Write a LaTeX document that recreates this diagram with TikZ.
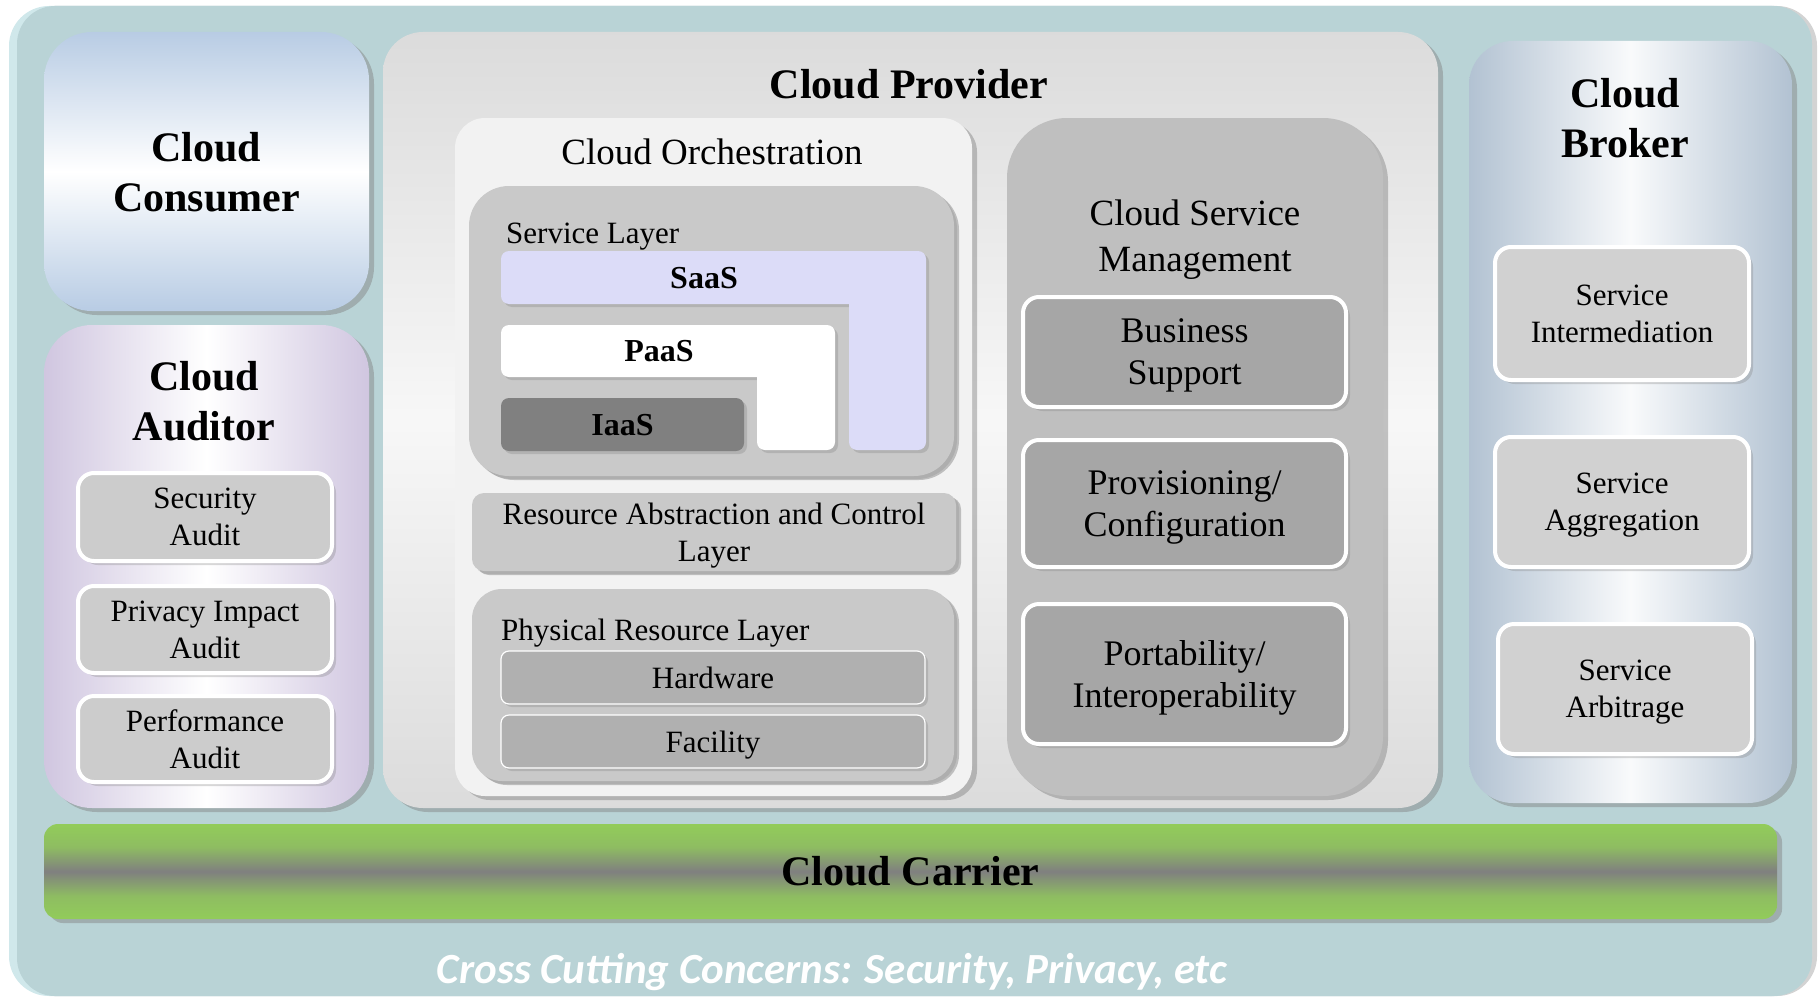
\documentclass[tikz,border=0pt]{standalone}
\usepackage{fontspec}
\setmainfont{Liberation Serif}
\newfontfamily\crossfont{Carlito}
\usepackage{xcolor}
\definecolor{tealbg}{RGB}{185,211,214}
\definecolor{tealedge}{RGB}{208,232,235}
\definecolor{consblue}{RGB}{184,204,228}
\definecolor{audlilac}{RGB}{208,198,224}
\definecolor{brokblue}{RGB}{178,194,210}
\definecolor{saaslav}{RGB}{220,220,248}
\definecolor{carrgreen}{RGB}{146,204,90}
\usetikzlibrary{shadows}

% font sizes (1pt = 1px of the layout grid)
\newcommand{\fnthead}{\fontsize{42}{50}\selectfont\bfseries}
\newcommand{\fntmid}{\fontsize{37}{46}\selectfont}
\newcommand{\fntcard}{\fontsize{36}{42}\selectfont}
\newcommand{\fntsmall}{\fontsize{31}{37}\selectfont}
\newcommand{\fntbar}{\fontsize{32}{38}\selectfont\bfseries}

% green band with a grey stripe through the middle
\pgfdeclareverticalshading{carrierband}{100bp}{color(0bp)=(carrgreen); color(25bp)=(carrgreen); color(37bp)=(carrgreen!80!gray); color(50bp)=(gray); color(63bp)=(carrgreen!80!gray); color(75bp)=(carrgreen); color(100bp)=(carrgreen)}

\begin{document}
\begin{tikzpicture}[x=1pt, y=-1pt,
  panel/.style={rounded corners=40pt, inner sep=0pt, align=center,
    drop shadow={shadow xshift=5pt, shadow yshift=-4pt, opacity=.45}},
  card/.style={draw=white, line width=4pt, rounded corners=16pt, align=center,
    inner sep=0pt, fill=black!20, text depth=-6pt,
    drop shadow={shadow xshift=4pt, shadow yshift=-4pt, opacity=.3}},
  bar/.style={rounded corners=8pt, inner sep=0pt, font=\fntbar, text depth=-6pt,
    drop shadow={shadow xshift=3pt, shadow yshift=-3pt, opacity=.3}},
  slab/.style={draw=white, line width=1.2pt, rounded corners=8pt, fill=black!31,
    inner sep=0pt, font=\fntsmall, text depth=-6pt,
    drop shadow={shadow xshift=3pt, shadow yshift=-3pt, opacity=.3}},
  title/.style={inner sep=0pt, align=center}
]
\useasboundingbox (0,0) rectangle (1819,998);

% background
\node[fill=tealedge, rounded corners=40pt, minimum width=1803pt, minimum height=990pt,
  drop shadow={shadow xshift=5pt, shadow yshift=0pt, opacity=.35}] (bgedge) at (910.5,501) {};
\node[fill=tealbg, rounded corners=38pt, minimum width=1795pt, minimum height=990pt] (bg) at (914.5,501) {};

% consumer and auditor
\node[panel, rounded corners=48pt, top color=consblue, bottom color=consblue, middle color=white,
  minimum width=325pt, minimum height=279pt, font=\fnthead, text depth=-4pt] (consumer) at (206.5,171.5) {Cloud\\Consumer};
\node[panel, rounded corners=48pt, left color=audlilac, right color=audlilac, middle color=white,
  minimum width=325pt, minimum height=483pt] (auditor) at (206.5,566.5) {};
\node[title, font=\fnthead] (auditortitle) at (204,401) {Cloud\\Auditor};
\node[card, minimum width=254pt, minimum height=88pt, font=\fntsmall] (secaudit) at (205,517) {Security\\Audit};
\node[card, minimum width=254pt, minimum height=87pt, font=\fntsmall] (privaudit) at (205,629.5) {Privacy Impact\\Audit};
\node[card, minimum width=254pt, minimum height=86pt, font=\fntsmall] (perfaudit) at (205,739) {Performance\\Audit};

% provider
\node[panel, top color=black!14, bottom color=black!14, middle color=black!3,
  minimum width=1055pt, minimum height=776pt] (provider) at (910.5,420) {};
\node[title, font=\fnthead] (providertitle) at (909,84) {Cloud Provider};

% orchestration column
\node[panel, rounded corners=30pt, fill=black!5,
  minimum width=517pt, minimum height=678pt] (orch) at (713.5,457) {};
\node[title, font=\fntmid] (orchtitle) at (712,152) {Cloud Orchestration};

\node[panel, fill=black!21, drop shadow={shadow xshift=3pt, shadow yshift=-3pt, opacity=.25},
  minimum width=485pt, minimum height=290pt] (svclayer) at (711.5,331) {};
\node[title, font=\fntsmall, anchor=west] (svctitle) at (506,237) {Service Layer};

\node[bar, fill=saaslav, minimum width=406pt, minimum height=53pt] (saas) at (704,277.5) {SaaS};
\node[bar, fill=saaslav, minimum width=77pt, minimum height=199pt] (saasv) at (887.5,350.5) {};
\node[bar, fill=white, minimum width=316pt, minimum height=52pt] (paas) at (659,351) {PaaS};
\node[bar, fill=white, minimum width=78pt, minimum height=125pt] (paasv) at (796,387.5) {};
\node[bar, fill=black!50, minimum width=243pt, minimum height=53pt] (iaas) at (622.5,424.5) {IaaS};

\node[panel, rounded corners=12pt, fill=black!21, font=\fntsmall, text depth=-6pt,
  drop shadow={shadow xshift=3pt, shadow yshift=-3pt, opacity=.25},
  minimum width=484pt, minimum height=78pt] (rescontrol) at (714,532) {Resource Abstraction and Control\\Layer};

\node[panel, rounded corners=30pt, fill=black!21,
  drop shadow={shadow xshift=3pt, shadow yshift=-3pt, opacity=.25},
  minimum width=482pt, minimum height=192pt] (physical) at (713,685) {};
\node[title, font=\fntsmall, anchor=west] (phystitle) at (501,633.5) {Physical Resource Layer};
\node[slab, minimum width=424pt, minimum height=53pt] (hardware) at (713,677.5) {Hardware};
\node[slab, minimum width=424pt, minimum height=53pt] (facility) at (713,741.5) {Facility};

% service management column
\node[panel, rounded corners=60pt, fill=black!25,
  minimum width=376pt, minimum height=678pt] (csm) at (1195,457) {};
\node[title, font=\fntmid] (csmtitle) at (1195,240) {Cloud Service\\Management};
\node[card, fill=black!35, font=\fntcard, minimum width=323pt, minimum height=110pt] (business) at (1184.5,352) {Business\\Support};
\node[card, fill=black!35, font=\fntcard, minimum width=323pt, minimum height=127pt] (provisioning) at (1184.5,503.5) {Provisioning/\\Configuration};
\node[card, fill=black!35, font=\fntcard, minimum width=323pt, minimum height=140pt] (portability) at (1184.5,674) {Portability/\\Interoperability};

% broker
\node[panel, rounded corners=44pt, left color=brokblue, right color=brokblue, middle color=white!92!brokblue,
  minimum width=323pt, minimum height=762pt] (broker) at (1630.5,422) {};
\node[title, font=\fnthead] (brokertitle) at (1625,118) {Cloud\\Broker};
\node[card, fill=black!18, font=\fntsmall, minimum width=254pt, minimum height=133pt] (intermed) at (1622,313.5) {Service\\Intermediation};
\node[card, fill=black!18, font=\fntsmall, minimum width=254pt, minimum height=130pt] (aggreg) at (1622,502) {Service\\Aggregation};
\node[card, fill=black!18, font=\fntsmall, minimum width=254pt, minimum height=130pt] (arbit) at (1625,689) {Service\\Arbitrage};

% carrier and cross-cutting note
\node[panel, rounded corners=14pt, shading=carrierband, font=\fnthead,
  minimum width=1733pt, minimum height=95pt] (carrier) at (910.5,871.5) {Cloud Carrier};
\node[title, text=white, font=\crossfont\fontsize{43}{50}\selectfont\bfseries\itshape] (crosscut) at (832,972)
  {Cross Cutting Concerns: Security, Privacy, etc};
\end{tikzpicture}
\end{document}
